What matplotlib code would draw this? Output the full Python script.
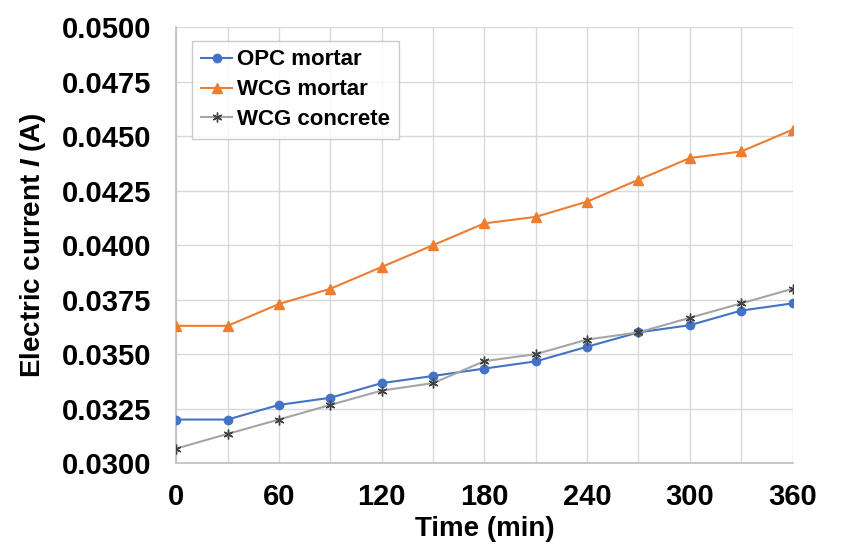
import numpy as np
import matplotlib.pyplot as plt
from matplotlib.ticker import MultipleLocator

# Datos
tiempo = [0, 30, 60, 90, 120, 150, 180, 210, 240, 270, 300, 330, 360]
opc_mortar = [0.0320, 0.0320, 0.03267, 0.0330, 0.03367, 0.0340, 0.03434,
              0.03467, 0.03534, 0.0360, 0.03633, 0.0370, 0.03733]
wcg_mortar = [0.0363, 0.0363, 0.0373, 0.0380, 0.0390, 0.0400, 0.0410,
              0.0413, 0.0420, 0.0430, 0.0440, 0.0443, 0.0453]
wcg_concrete = [0.03067, 0.03134, 0.0320, 0.03267, 0.03333, 0.03367, 0.03468,
                0.0350, 0.03567, 0.0360, 0.03667, 0.03733, 0.0380]
x_ticks = [0, 60, 120, 180, 240, 300, 360]

plt.rcParams['font.family'] = ['Liberation Sans', 'DejaVu Sans']
plt.rcParams['mathtext.fontset'] = 'custom'
plt.rcParams['mathtext.it'] = 'Liberation Sans:italic:bold'
plt.rcParams['mathtext.rm'] = 'Liberation Sans:bold'

fig = plt.figure(figsize=(8.55, 5.56), dpi=100)
ax = fig.add_axes([0.206, 0.167, 0.721, 0.784])

ax.plot(tiempo, opc_mortar, color='#4472C4', lw=1.5, marker='o', markersize=6,
        label='OPC mortar', zorder=3)
ax.plot(tiempo, wcg_mortar, color='#ED7D31', lw=1.5, marker='^', markersize=7,
        label='WCG mortar', zorder=3)
ax.plot(tiempo, wcg_concrete, color='#A5A5A5', lw=1.5, marker=(6, 2, 0), markersize=7,
        markeredgecolor='#404040', markeredgewidth=1.0, label='WCG concrete', zorder=3)

ax.set_xlim(0, 360)
ax.set_ylim(0.0300, 0.0500)
ax.set_xticks(x_ticks)
ax.xaxis.set_minor_locator(MultipleLocator(30))
ax.yaxis.set_major_locator(MultipleLocator(0.0025))
ax.yaxis.set_major_formatter(plt.FuncFormatter(lambda v, p: f"{v:.4f}"))

ax.grid(True, which='both', color='#D9D9D9', lw=1.0, zorder=0)
ax.set_axisbelow(True)
ax.tick_params(which='both', length=0)
ax.tick_params(axis='both', labelsize=21)
ax.tick_params(axis='y', pad=18)
ax.tick_params(axis='x', pad=14)
for lab in ax.get_xticklabels() + ax.get_yticklabels():
    lab.set_fontweight('bold')

for s in ['top', 'right']:
    ax.spines[s].set_visible(False)
for s in ['left', 'bottom']:
    ax.spines[s].set_color('#BFBFBF')
    ax.spines[s].set_linewidth(1.2)

ax.set_xlabel('Time (min)', fontsize=20, fontweight='bold', labelpad=4)
ax.set_ylabel(r'Electric current $I$ (A)', fontsize=20, fontweight='bold', labelpad=10)

leg = ax.legend(loc='upper left', bbox_to_anchor=(0.008, 0.995),
                prop={'weight': 'bold', 'size': 16}, frameon=True, fancybox=False,
                edgecolor='#BFBFBF', handlelength=1.4, handletextpad=0.2,
                labelspacing=0.4, borderpad=0.4)
leg.get_frame().set_linewidth(1.0)

fig.savefig('out.png', dpi=100)
